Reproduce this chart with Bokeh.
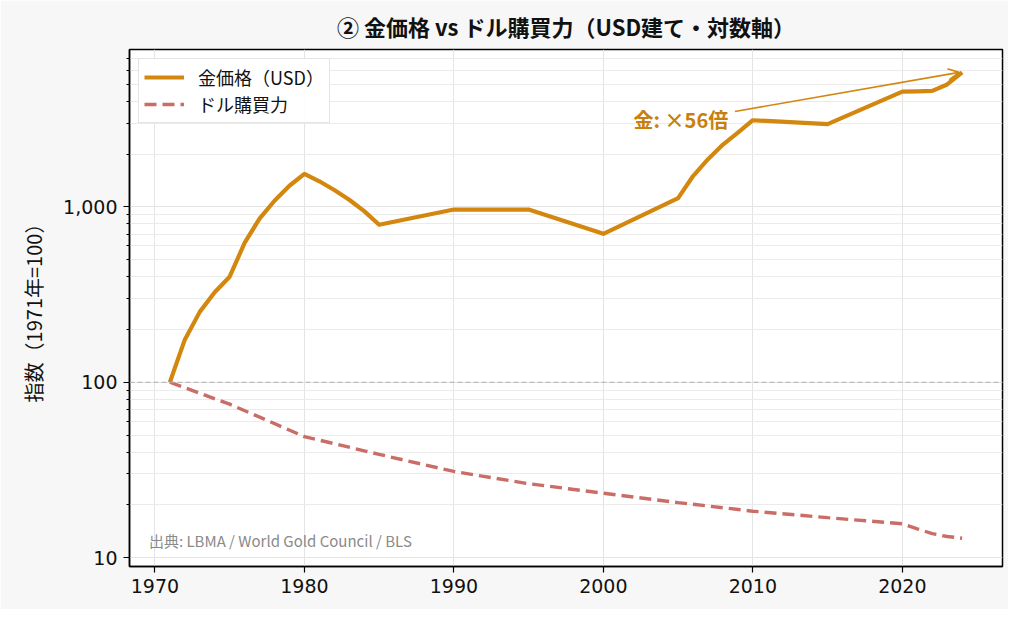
from bokeh.plotting import figure
from bokeh.models import (Range1d, FixedTicker, NumeralTickFormatter, Span, Label,
                          Arrow, OpenHead, Legend, LegendItem, ColumnDataSource)
from bokeh.embed import file_html
from bokeh.resources import INLINE

FONT = "Noto Sans CJK JP"
NUMFONT = "DejaVu Sans"

# ---- data ----
gold_years = [1971, 1972, 1973, 1974, 1975, 1976, 1977, 1978, 1979, 1980,
              1981, 1982, 1983, 1984, 1985, 1990, 1995, 2000, 2005,
              2006, 2007, 2008, 2009, 2010, 2015, 2020, 2021, 2022, 2023, 2024]
gold_index = [100, 175, 252, 326, 400, 623, 858, 1084, 1320, 1545,
              1400, 1248, 1098, 946, 791, 966, 966, 702, 1122,
              1500, 1872, 2268, 2655, 3121, 2965, 4540, 4560, 4585, 4990, 5850]

usd_years = [1971, 1975, 1980, 1985, 1990, 1995, 2000, 2005, 2010, 2015,
             2020, 2021, 2022, 2023, 2024]
usd_power = [100, 75.0, 49.0, 38.8, 31.0, 26.4, 23.3, 20.6, 18.4, 16.9,
             15.6, 14.6, 13.7, 13.2, 12.9]

x_ticks = [1970, 1980, 1990, 2000, 2010, 2020]
y_ticks = [10, 100, 1000]
y_minor = [m * d for d in (10, 100, 1000) for m in range(2, 10)]

GOLD = "#d4870e"
USD = "#c96d66"

p = figure(width=1008, height=609, y_axis_type="log",
           x_range=Range1d(1968.3, 2026.7), y_range=Range1d(8.9, 7900),
           output_backend="svg", toolbar_location=None,
           min_border_left=129, min_border_right=6, min_border_bottom=43,
           min_border_top=46,
           title="② 金価格 vs ドル購買力（USD建て・対数軸）")
p.background_fill_color = "white"
p.border_fill_color = "#f7f7f7"
p.outline_line_color = "black"
p.outline_line_width = 1.5

p.title.align = "center"
p.title.text_font = FONT
p.title.text_font_size = "22px"
p.title.text_font_style = "bold"
p.title.text_color = "#111111"
p.title.text_line_height = 1.0
p.title.offset = 0
p.title.standoff = 15

# axes
p.xaxis.ticker = FixedTicker(ticks=x_ticks)
p.yaxis.ticker = FixedTicker(ticks=y_ticks, minor_ticks=y_minor)
p.yaxis.formatter = NumeralTickFormatter(format="0,0")
for ax in (p.xaxis[0], p.yaxis[0]):
    ax.axis_line_color = "black"
    ax.axis_line_width = 1.5
    ax.major_tick_line_color = "black"
    ax.major_tick_line_width = 1.2
    ax.major_tick_out = 6
    ax.major_tick_in = 0
    ax.major_label_text_font = NUMFONT
    ax.major_label_text_font_size = "19px"
    ax.major_label_text_color = "#111111"
    ax.major_label_standoff = 6
p.xaxis.minor_tick_line_color = None
p.yaxis.minor_tick_line_color = "black"
p.yaxis.minor_tick_out = 3
p.yaxis.minor_tick_in = 0
p.yaxis.axis_label = "指数（1971年=100）"
p.yaxis.axis_label_text_font = FONT
p.yaxis.axis_label_text_font_size = "20px"
p.yaxis.axis_label_text_font_style = "normal"
p.yaxis.axis_label_text_color = "#111111"
p.yaxis.axis_label_standoff = 12

# grid
p.xgrid.grid_line_color = "#e4e4e4"
p.xgrid.grid_line_width = 1
p.ygrid.grid_line_color = "#e4e4e4"
p.ygrid.minor_grid_line_color = "#ebebeb"
p.ygrid.minor_grid_line_width = 1

# baseline 100
p.add_layout(Span(location=100, dimension="width", line_color="#b0b0b0",
                  line_width=1.2, line_dash="5 3"))

gsrc = ColumnDataSource(dict(x=gold_years, y=gold_index))
usrc = ColumnDataSource(dict(x=usd_years, y=usd_power))
r_gold = p.line("x", "y", source=gsrc, line_color=GOLD, line_width=4.2,
                line_join="round")
r_usd = p.line("x", "y", source=usrc, line_color=USD, line_width=3.4,
               line_dash="12 6")

legend = Legend(items=[LegendItem(label="金価格（USD）", renderers=[r_gold]),
                       LegendItem(label="ドル購買力", renderers=[r_usd])],
                location="top_left")
legend.label_text_font = FONT
legend.label_text_font_size = "18px"
legend.label_text_color = "#111111"
legend.border_line_color = "#cccccc"
legend.border_line_width = 1.2
legend.background_fill_alpha = 0.9
legend.glyph_width = 40
legend.glyph_height = 18
legend.label_standoff = 14
legend.label_height = 18
legend.spacing = 1
legend.padding = 5
legend.margin = 9
p.add_layout(legend)

# annotation
p.add_layout(Arrow(end=OpenHead(size=11, line_color=GOLD, line_width=1.6),
                   x_start=2008.8, y_start=3500,
                   x_end=gold_years[-1] - 0.2, y_end=gold_index[-1],
                   line_color=GOLD, line_width=1.6))
p.add_layout(Label(x=2008.35, y=3162, text="金: ×56倍", text_align="right",
                   text_baseline="middle", text_font=FONT,
                   text_font_size="20px", text_font_style="bold",
                   text_color="#c8800c"))

p.add_layout(Label(x=1969.6, y=12.6, text="出典: LBMA / World Gold Council / BLS",
                   text_align="left", text_baseline="middle", text_font=FONT,
                   text_font_size="15px", text_color="#8a8a8a"))

open("out.html", "w").write(file_html(p, INLINE))
